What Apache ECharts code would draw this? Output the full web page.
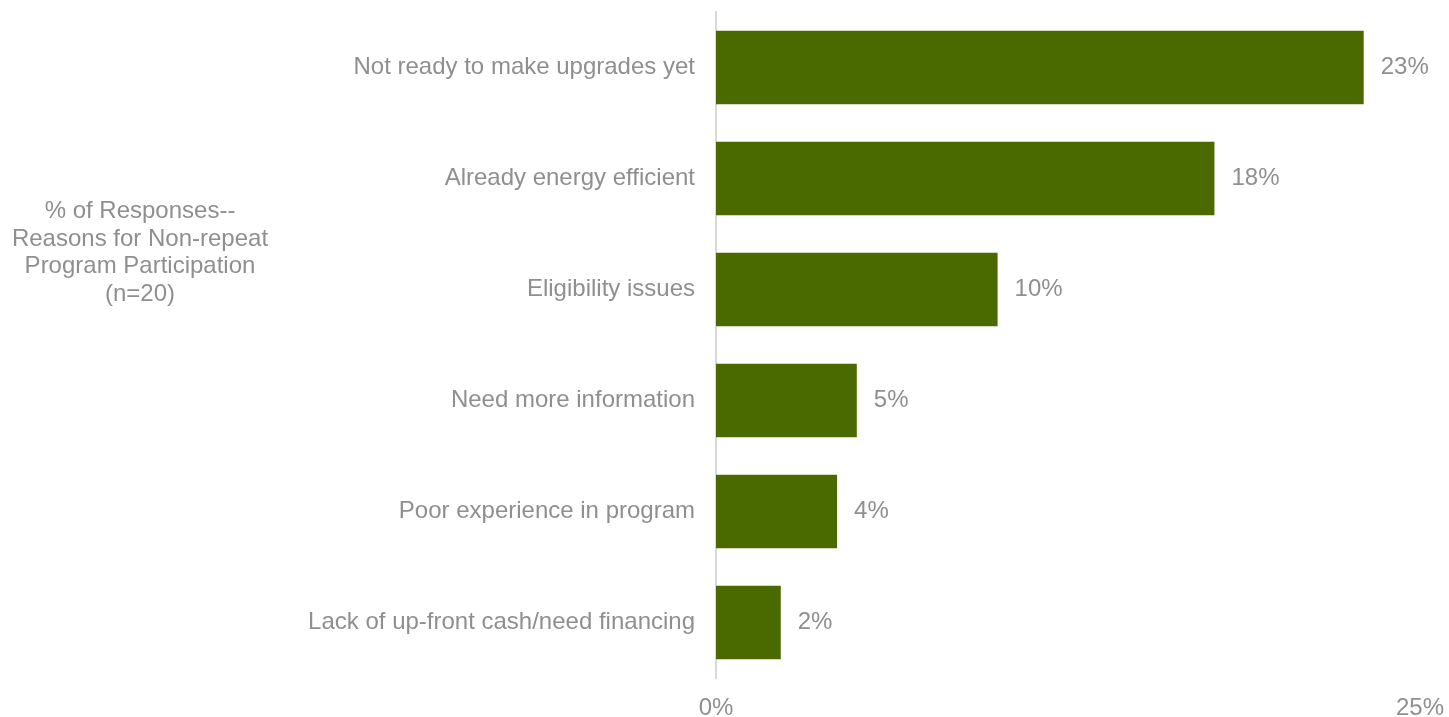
<!DOCTYPE html>
<html>
<head>
<meta charset="utf-8">
<style>
  html, body { margin: 0; padding: 0; background: #ffffff; }
  #chart { width: 1449px; height: 717px; }
</style>
<script src="https://cdn.jsdelivr.net/npm/echarts@6/dist/echarts.min.js"></script>
</head>
<body>
<div id="chart"></div>
<script>
// Reasons for non-repeat program participation, share of responses (%)
const categories = [
  'Not ready to make upgrades yet',
  'Already energy efficient',
  'Eligibility issues',
  'Need more information',
  'Poor experience in program',
  'Lack of up-front cash/need financing'
];
const shares = [23.0, 17.7, 10.0, 5.0, 4.3, 2.3];
const axisTicks = [0, 25];
const titleLines = [
  '% of Responses--',
  'Reasons for Non-repeat',
  'Program Participation',
  '(n=20)'
];

const textColor = '#8f8f8f';
const barColor = '#4a6a00';
const fontFamily = '"Liberation Sans", Arial, sans-serif';
const fontSize = 24;

const chart = echarts.init(document.getElementById('chart'));
chart.setOption({
  animation: false,
  backgroundColor: '#ffffff',
  textStyle: { fontFamily: fontFamily },
  grid: {
    left: 716, right: 29, top: 12, bottom: 39,
    containLabel: false,
    outerBoundsMode: 'none'
  },
  graphic: [{
    type: 'text',
    x: 140,
    y: 198,
    style: {
      text: titleLines.join('\n'),
      align: 'center',
      verticalAlign: 'top',
      fill: textColor,
      font: fontSize + 'px ' + fontFamily,
      lineHeight: 27.5
    }
  }],
  xAxis: {
    type: 'value',
    min: axisTicks[0],
    max: axisTicks[axisTicks.length - 1],
    interval: axisTicks[1] - axisTicks[0],
    axisLine: { show: false },
    axisTick: { show: false },
    splitLine: { show: false },
    axisLabel: {
      formatter: '{value}%',
      color: textColor,
      fontSize: fontSize,
      margin: 18
    }
  },
  yAxis: {
    type: 'category',
    inverse: true,
    data: categories,
    axisLine: { show: true, lineStyle: { color: '#d9d9d9', width: 2 } },
    axisTick: { show: false },
    axisLabel: {
      color: textColor,
      fontSize: fontSize,
      margin: 21,
      padding: [4, 0, 0, 0]
    }
  },
  series: [{
    type: 'bar',
    data: shares,
    barCategoryGap: '34%',
    itemStyle: { color: barColor },
    label: {
      show: true,
      position: 'right',
      distance: 17,
      color: textColor,
      fontSize: fontSize,
      padding: [4, 0, 0, 0],
      formatter: p => Math.round(p.value) + '%'
    }
  }]
});
</script>
</body>
</html>
